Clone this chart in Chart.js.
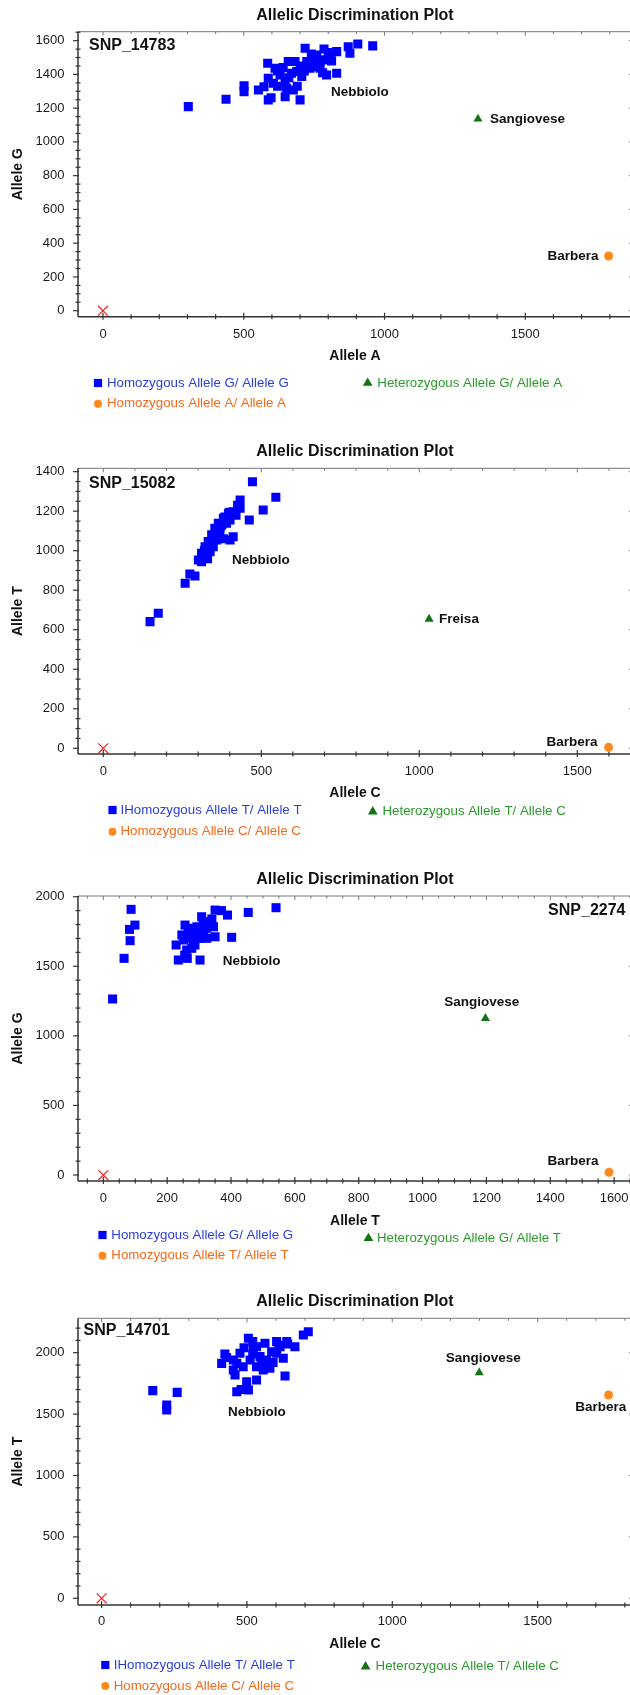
<!DOCTYPE html>
<html lang="en">
<head>
    <meta charset="UTF-8">
    <title>Allelic Discrimination Plots</title>
    <script src="https://cdn.jsdelivr.net/npm/chart.js"></script>
    <style>
        body { margin: 0; width: 630px; height: 1695px; overflow: hidden; background: #fff; position: relative; }
        canvas { position: absolute; left: 0; }
    </style>
</head>
<body>
<script>
// ---------- data: SNP_14783 (Allele A vs Allele G) ----------
const snp14783Nebbiolo = [
    [303,1209],[437,1253],[501,1333],[501,1298],[552,1308],[572,1327],[587,1249],[597,1262],
    [585,1466],[611,1436],[587,1377],[629,1397],[647,1357],[652,1318],[647,1268],[676,1308],
    [658,1476],[682,1476],[700,1249],[670,1407],[706,1387],[718,1555],[724,1476],[741,1496],
    [747,1446],[771,1436],[759,1515],[785,1551],[789,1486],[794,1397],[830,1407],[830,1535],
    [871,1564],[877,1525],[905,1580],[958,1569],[688,1417],[735,1436],[759,1466],[806,1505],
    [605,1348],[620,1420],[640,1440],[660,1380],[700,1450],[715,1420],[740,1520],[770,1470],
    [800,1530],[620,1330],[690,1330],[730,1460],[780,1410],[812,1480]
];
const snp14783Sangiovese = [[1332, 1136]];
const snp14783Barbera = [[1796, 324]];
const snp14783Ntc = [[0, 0]];
const snp14783XTicks = [0, 500, 1000, 1500];
const snp14783YTicks = [0, 200, 400, 600, 800, 1000, 1200, 1400, 1600];

// ---------- data: SNP_15082 (Allele C vs Allele T) ----------
const snp15082Nebbiolo = [
    [148,641],[174,683],[259,835],[274,882],[290,872],[472,1349],[546,1270],[506,1206],
    [462,1155],[433,1257],[433,1215],[411,1071],[401,1054],[301,953],[311,987],[322,1020],
    [332,1046],[343,1080],[353,1113],[364,1139],[380,1164],[396,1189],[411,1197],[327,970],
    [348,1020],[338,995],[369,1088],[390,1139],[359,1054],[401,1155],[311,944],[320,1000],
    [335,1030],[345,1060],[360,1100],[375,1130],[385,1170],[400,1195],[420,1180],[425,1230],
    [330,960],[355,1070],[370,1120],[380,1060]
];
const snp15082Freisa = [[1031, 654]];
const snp15082Barbera = [[1599, 5]];
const snp15082Ntc = [[0, 0]];
const snp15082XTicks = [0, 500, 1000, 1500];
const snp15082YTicks = [0, 200, 400, 600, 800, 1000, 1200, 1400];

// ---------- data: SNP_2274 (Allele T vs Allele G) ----------
const snp2274Nebbiolo = [
    [29,1265],[65,1557],[84,1684],[82,1765],[99,1796],[87,1909],[235,1545],[263,1557],
    [303,1545],[228,1653],[256,1796],[350,1904],[389,1868],[454,1887],[541,1921],[402,1708],
    [350,1712],[308,1856],[251,1689],[272,1737],[293,1784],[313,1809],[334,1820],[282,1689],
    [303,1737],[324,1773],[261,1617],[277,1629],[345,1784],[246,1725],[287,1653],[266,1773],
    [324,1701],[300,1700],[315,1760],[280,1760],[260,1700],[340,1840],[370,1900],[255,1580],
    [290,1720]
];
const snp2274Sangiovese = [[1197, 1126]];
const snp2274Barbera = [[1584, 19]];
const snp2274Ntc = [[0, 0]];
const snp2274XTicks = [0, 200, 400, 600, 800, 1000, 1200, 1400, 1600];
const snp2274YTicks = [0, 500, 1000, 1500, 2000];

// ---------- data: SNP_14701 (Allele C vs Allele T) ----------
const snp14701Nebbiolo = [
    [176,1691],[260,1677],[224,1574],[224,1533],[711,2171],[694,2144],[631,1810],[424,1989],
    [413,1913],[453,1859],[459,1818],[465,1682],[499,1764],[505,1696],[505,2117],[533,1778],
    [562,2077],[602,2090],[637,2090],[665,2049],[625,1954],[579,1873],[476,1995],[511,1941],
    [545,1968],[568,1941],[602,1995],[522,2022],[487,1886],[533,1886],[453,1941],[556,1859],
    [533,2049],[614,2049],[585,2008],[465,1913],[430,1960],[490,2040],[520,1990],[550,1910],
    [590,1920],[610,2060],[640,2070],[480,1700],[520,2090]
];
const snp14701Sangiovese = [[1299, 1837]];
const snp14701Barbera = [[1744, 1655]];
const snp14701Ntc = [[0, 0]];
const snp14701XTicks = [0, 500, 1000, 1500];
const snp14701YTicks = [0, 500, 1000, 1500, 2000];

const FONT = '"Liberation Sans", Arial, sans-serif';
Chart.defaults.font.family = FONT;

const CANVAS_W = 634, CANVAS_H = 420, X_AXIS_H = 50, Y_AXIS_W = 78;

const BLUE = '#0000ff', GREEN = '#137313', ORANGE = '#ff8a1c';
const BLUE_TEXT = '#2a3fd6', GREEN_TEXT = '#2b9a2b', ORANGE_TEXT = '#f26a1b';

// frame with minor/major ticks on all four sides
const framePlugin = {
    id: 'frame',
    beforeDatasetsDraw(chart, args, o) {
        const {ctx, chartArea: a, scales: {x, y}} = chart;
        const seg = (x1, y1, x2, y2) => { ctx.beginPath(); ctx.moveTo(x1, y1); ctx.lineTo(x2, y2); ctx.stroke(); };
        const steps = (s, step) => {
            const out = [];
            for (let v = Math.ceil(s.min / step) * step; v <= s.max; v += step) out.push(v);
            return out;
        };
        const isMajor = (v, m) => Math.abs(v / m - Math.round(v / m)) < 1e-6;
        ctx.save();
        ctx.strokeStyle = '#777';
        ctx.lineWidth = 1;
        seg(a.left, a.top, a.right, a.top);
        seg(a.right, a.top, a.right, a.bottom);
        steps(x, o.xMinor).forEach(v => {
            const px = x.getPixelForValue(v);
            seg(px, a.top, px, a.top + (isMajor(v, o.xMajor) ? 4 : 2.5));
        });
        steps(y, o.yMajor).forEach(v => {
            const py = y.getPixelForValue(v);
            seg(a.right - 3, py, a.right, py);
        });
        ctx.strokeStyle = '#333';
        ctx.lineWidth = 1.5;
        seg(a.left, a.top, a.left, a.bottom);
        seg(a.left, a.bottom, a.right, a.bottom);
        ctx.lineWidth = 1.2;
        steps(x, o.xMinor).forEach(v => {
            const px = x.getPixelForValue(v);
            const m = isMajor(v, o.xMajor);
            seg(px, a.bottom - (m ? 4 : 2.5), px, a.bottom + (m ? 3 : 2.5));
        });
        steps(y, o.yMinor).forEach(v => {
            const py = y.getPixelForValue(v);
            const m = isMajor(v, o.yMajor);
            seg(a.left - (m ? 5 : 2.5), py, a.left + (m ? 1 : 2.5), py);
        });
        ctx.restore();
    }
};

// text labels anchored to data values or to the plot frame
const notesPlugin = {
    id: 'notes',
    afterDatasetsDraw(chart, args, o) {
        const {ctx, chartArea: a, scales: {x, y}} = chart;
        ctx.save();
        ctx.fillStyle = '#111';
        ctx.textBaseline = 'middle';
        o.items.forEach(it => {
            let px, py;
            if (it.at === 'left') { px = a.left; py = a.top; }
            else if (it.at === 'right') { px = a.right; py = a.top; }
            else { px = x.getPixelForValue(it.at[0]); py = y.getPixelForValue(it.at[1]); }
            ctx.font = 'bold ' + (it.size || 13.5) + 'px ' + FONT;
            ctx.textAlign = it.align || 'left';
            ctx.fillText(it.text, px + (it.dx || 0), py + (it.dy || 0));
        });
        ctx.restore();
    }
};

// two-column legend under the plot
const keyPlugin = {
    id: 'key',
    afterDraw(chart, args, o) {
        const ctx = chart.ctx;
        ctx.save();
        ctx.font = '13.3px ' + FONT;
        ctx.textBaseline = 'middle';
        ctx.textAlign = 'left';
        o.items.forEach(it => {
            ctx.fillStyle = it.marker;
            Chart.helpers.drawPoint(ctx, {pointStyle: it.style, radius: it.radius, rotation: 0, borderWidth: 0}, it.mx, it.y);
            ctx.fillStyle = it.color;
            ctx.fillText(it.text, it.tx, it.y);
        });
        ctx.restore();
    }
};

const pts = arr => arr.map(p => ({x: p[0], y: p[1]}));

function makePanel(spec) {
    const top = spec.titleY - 16;
    const canvas = document.createElement('canvas');
    canvas.width = CANVAS_W;
    canvas.height = CANVAS_H;
    canvas.style.top = top + 'px';
    document.body.appendChild(canvas);

    const areaTop = spec.areaTop - top;
    const areaBottom = spec.areaBottom - top;
    const L = spec.legend;
    const [lab1, lab2, lab3] = spec.legendText;

    new Chart(canvas.getContext('2d'), {
        type: 'scatter',
        data: {
            datasets: [
                { label: lab1, data: pts(spec.homo1), pointStyle: 'rect', pointRadius: 6.4, backgroundColor: BLUE, borderWidth: 0 },
                { label: lab2, data: pts(spec.hetero), pointStyle: 'triangle', pointRadius: 5.2, backgroundColor: GREEN, borderWidth: 0 },
                { label: lab3, data: pts(spec.homo2), pointStyle: 'circle', pointRadius: 4.5, backgroundColor: ORANGE, borderWidth: 0 },
                { label: 'NTC', data: pts(spec.ntc), pointStyle: 'crossRot', pointRadius: 7, borderColor: '#ff2020', borderWidth: 1.2 }
            ]
        },
        options: {
            responsive: false,
            animation: false,
            devicePixelRatio: 1,
            layout: {
                autoPadding: false,
                padding: { left: 0, right: 2, top: 0, bottom: CANVAS_H - areaBottom - X_AXIS_H }
            },
            scales: {
                x: {
                    type: 'linear',
                    min: spec.xRange[0], max: spec.xRange[1],
                    grid: { display: false, drawTicks: false },
                    border: { display: false },
                    afterBuildTicks: s => { s.ticks = spec.xTicks.map(v => ({value: v})); },
                    afterFit: s => { s.height = X_AXIS_H; s.paddingLeft = 0; s.paddingRight = 0; },
                    ticks: {
                        autoSkip: false, maxRotation: 0, includeBounds: false,
                        padding: spec.tickY - spec.areaBottom - 7.8,
                        callback: v => String(v),
                        color: '#1a1a1a', font: { size: 13 }
                    },
                    title: {
                        display: true, text: spec.xTitle, color: '#111',
                        font: { size: 14, weight: 'bold' },
                        padding: { top: 0, bottom: (areaBottom + X_AXIS_H) - (spec.axisTitleY - top) - 8.4 }
                    }
                },
                y: {
                    type: 'linear',
                    min: spec.yRange[0], max: spec.yRange[1],
                    grid: { display: false, drawTicks: false },
                    border: { display: false },
                    afterBuildTicks: s => { s.ticks = spec.yTicks.map(v => ({value: v})); },
                    afterFit: s => { s.width = Y_AXIS_W; s.paddingTop = 0; s.paddingBottom = 0; },
                    ticks: {
                        includeBounds: false, padding: 13.5,
                        callback: v => String(v),
                        color: '#1a1a1a', font: { size: 13 }
                    },
                    title: {
                        display: true, text: spec.yTitle, color: '#111',
                        font: { size: 14, weight: 'bold' },
                        padding: { top: 9.6, bottom: 0 }
                    }
                }
            },
            plugins: {
                legend: { display: false },
                tooltip: { enabled: false },
                title: {
                    display: true, fullSize: false,
                    text: 'Allelic Discrimination Plot', color: '#111',
                    font: { size: 16, weight: 'bold' },
                    padding: { top: 6.4, bottom: areaTop - 19.2 - 6.4 }
                },
                frame: spec.minor,
                notes: { items: spec.notes },
                key: {
                    items: [
                        { text: lab1, color: BLUE_TEXT, marker: BLUE, style: 'rect', radius: 5.8, mx: L.lx, tx: L.ltx, y: L.r1 - top },
                        { text: lab3, color: ORANGE_TEXT, marker: ORANGE, style: 'circle', radius: 4, mx: L.lx, tx: L.ltx, y: L.r2 - top },
                        { text: lab2, color: GREEN_TEXT, marker: GREEN, style: 'triangle', radius: 5.6, mx: L.rx, tx: L.rtx, y: L.rr - top }
                    ]
                }
            }
        },
        plugins: [framePlugin, notesPlugin, keyPlugin]
    });
}

makePanel({
    titleY: 16, areaTop: 31.7, areaBottom: 316.7, tickY: 334, axisTitleY: 356,
    xRange: [-88.8, 1879], yRange: [-35.6, 1653],
    xTicks: snp14783XTicks, yTicks: snp14783YTicks,
    xTitle: 'Allele A', yTitle: 'Allele G',
    homo1: snp14783Nebbiolo, hetero: snp14783Sangiovese, homo2: snp14783Barbera, ntc: snp14783Ntc,
    legendText: ['Homozygous Allele G/ Allele G', 'Heterozygous Allele G/ Allele A', 'Homozygous Allele A/ Allele A'],
    legend: { lx: 98, ltx: 107, rx: 367.7, rtx: 377.3, r1: 383, r2: 403.7, rr: 383 },
    minor: { xMajor: 500, xMinor: 100, yMajor: 200, yMinor: 50 },
    notes: [
        { text: 'SNP_14783', at: 'left', dx: 11, dy: 14, size: 16 },
        { text: 'Nebbiolo', at: [810, 1296] },
        { text: 'Sangiovese', at: snp14783Sangiovese[0], dx: 12 },
        { text: 'Barbera', at: snp14783Barbera[0], dx: -10, align: 'right' }
    ]
});

makePanel({
    titleY: 452, areaTop: 468.3, areaBottom: 754, tickY: 771.7, axisTitleY: 793,
    xRange: [-80, 1673], yRange: [-28.8, 1417],
    xTicks: snp15082XTicks, yTicks: snp15082YTicks,
    xTitle: 'Allele C', yTitle: 'Allele T',
    homo1: snp15082Nebbiolo, hetero: snp15082Freisa, homo2: snp15082Barbera, ntc: snp15082Ntc,
    legendText: ['IHomozygous Allele T/ Allele T', 'Heterozygous Allele T/ Allele C', 'Homozygous Allele C/ Allele C'],
    legend: { lx: 112.5, ltx: 120.5, rx: 372.8, rtx: 382.5, r1: 810, r2: 831.7, rr: 811.7 },
    minor: { xMajor: 500, xMinor: 100, yMajor: 200, yMinor: 50 },
    notes: [
        { text: 'SNP_15082', at: 'left', dx: 11, dy: 15.7, size: 16 },
        { text: 'Nebbiolo', at: [407, 953] },
        { text: 'Freisa', at: snp15082Freisa[0], dx: 10 },
        { text: 'Barbera', at: snp15082Barbera[0], dx: -11, dy: -5, align: 'right' }
    ]
});

makePanel({
    titleY: 880, areaTop: 896, areaBottom: 1181, tickY: 1198.3, axisTitleY: 1221,
    xRange: [-79.3, 1656], yRange: [-43, 2005],
    xTicks: snp2274XTicks, yTicks: snp2274YTicks,
    xTitle: 'Allele T', yTitle: 'Allele G',
    homo1: snp2274Nebbiolo, hetero: snp2274Sangiovese, homo2: snp2274Barbera, ntc: snp2274Ntc,
    legendText: ['Homozygous Allele G/ Allele G', 'Heterozygous Allele G/ Allele T', 'Homozygous Allele T/ Allele T'],
    legend: { lx: 102.5, ltx: 111.3, rx: 368.4, rtx: 376.9, r1: 1235, r2: 1255.7, rr: 1238.3 },
    minor: { xMajor: 200, xMinor: 50, yMajor: 500, yMinor: 100 },
    notes: [
        { text: 'SNP_2274', at: 'right', dx: -6.5, dy: 14.7, size: 16, align: 'right' },
        { text: 'Nebbiolo', at: [374, 1538] },
        { text: 'Sangiovese', at: snp2274Sangiovese[0], dx: -3.6, dy: -15.6, align: 'center' },
        { text: 'Barbera', at: snp2274Barbera[0], dx: -36, dy: -10.6, align: 'center' }
    ]
});

makePanel({
    titleY: 1302, areaTop: 1318.3, areaBottom: 1605, tickY: 1621.7, axisTitleY: 1644.3,
    xRange: [-81.2, 1824.6], yRange: [-54.6, 2280],
    xTicks: snp14701XTicks, yTicks: snp14701YTicks,
    xTitle: 'Allele C', yTitle: 'Allele T',
    homo1: snp14701Nebbiolo, hetero: snp14701Sangiovese, homo2: snp14701Barbera, ntc: snp14701Ntc,
    legendText: ['IHomozygous Allele T/ Allele T', 'Heterozygous Allele T/ Allele C', 'Homozygous Allele C/ Allele C'],
    legend: { lx: 105.3, ltx: 113.7, rx: 365.6, rtx: 375.6, r1: 1665, r2: 1686, rr: 1666.7 },
    minor: { xMajor: 500, xMinor: 100, yMajor: 500, yMinor: 100 },
    notes: [
        { text: 'SNP_14701', at: 'left', dx: 5.6, dy: 12.4, size: 16 },
        { text: 'Nebbiolo', at: [435, 1511] },
        { text: 'Sangiovese', at: snp14701Sangiovese[0], dx: 4, dy: -14, align: 'center' },
        { text: 'Barbera', at: snp14701Barbera[0], dx: -33.4, dy: 12.7 }
    ]
});
</script>
</body>
</html>
